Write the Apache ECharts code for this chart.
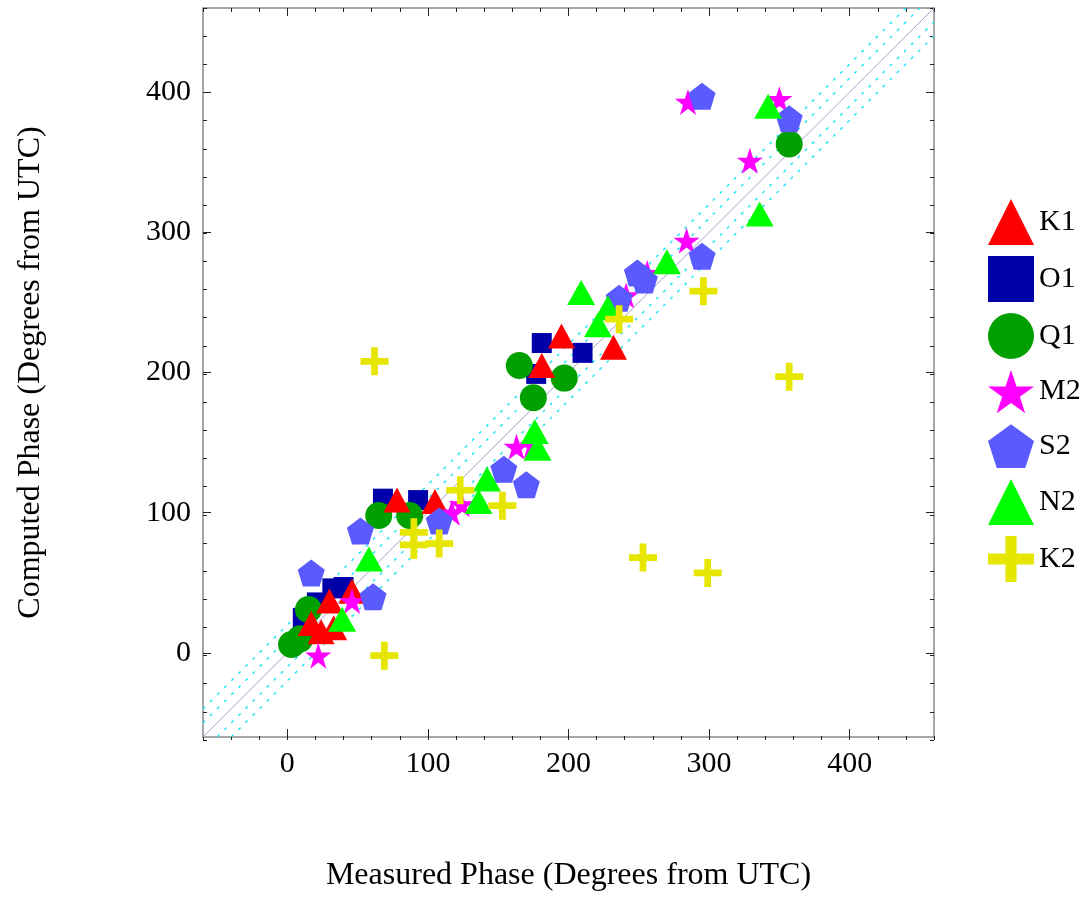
<!DOCTYPE html>
<html>
<head>
<meta charset="utf-8">
<script src="https://cdn.jsdelivr.net/npm/echarts@6/dist/echarts.min.js"></script>
<style>
html, body { margin: 0; padding: 0; background: #fff; }
#main { width: 1088px; height: 897px; }
</style>
</head>
<body>
<div id="main"></div>
<script>
// measured / computed phase pairs
var k1 = [[17, 21], [24, 15], [33, 18], [30, 37], [46, 44], [78, 109], [105, 108], [181, 205], [195, 226], [232, 218]];
var o1 = [[11, 25], [21, 36], [32, 46], [40, 47], [68, 110], [93, 109], [177, 199], [181, 221], [210, 214]];
var q1 = [[3, 6], [9, 10], [15, 31], [65, 98], [87, 98], [165, 205], [175, 182], [197, 196], [357, 363]];
var m2 = [[22, -2], [46, 37], [117, 100], [124, 106], [163, 147], [174, 148], [241, 255], [256, 271], [284, 294], [285, 393], [329, 351], [350, 395]];
var s2 = [[17, 57], [52, 87], [61, 40], [108, 94], [154, 131], [170, 120], [236, 253], [249, 271], [254, 266], [295, 283], [295, 397], [357, 381]];
var n2 = [[39, 24], [58, 67], [136, 108], [142, 124], [176, 158], [178, 146], [209, 257], [221, 234], [228, 246], [270, 279], [336, 313], [342, 390]];
var k2 = [[22, -68], [62, 208], [69, -2], [90, 86], [90, 77], [108, 78], [123, 116], [153, 105], [236, 238], [253, 68], [296, 258], [299, 57], [357, 197]];

var legendNames = ['K1', 'O1', 'Q1', 'M2', 'S2', 'N2', 'K2'];
var majorTicks = [0, 100, 200, 300, 400];
var bandOffsets = [-20, -10, 10, 20];
var axisMin = -60, axisMax = 460;

var starPath = 'path://M50,0 L61.8,35.1 L98.9,35.1 L68.9,56.7 L80.3,91.9 L50,70.2 L19.7,91.9 L31.1,56.7 L1.1,35.1 L38.2,35.1 Z';
var pentPath = 'path://M50,0 L97.6,34.5 L79.4,90.5 L20.6,90.5 L2.4,34.5 Z';
var plusPath = 'path://M38,0 L62,0 L62,38 L100,38 L100,62 L62,62 L62,100 L38,100 L38,62 L0,62 L0,38 L38,38 Z';

var font = 'Liberation Serif';
var gridBox = { left: 203, right: 154, top: 8, bottom: 157 };

function axis(kind, pos, grid, major) {
	var a = {
		type: 'value', gridIndex: grid, position: pos,
		min: axisMin, max: axisMax,
		splitLine: { show: false },
		axisLine: { show: major, onZero: false, lineStyle: { color: '#8a8a8a', width: 1.5 } },
		axisLabel: { show: false },
		axisTick: { inside: true, length: 4, lineStyle: { color: '#222', width: 1 } }
	};
	if (major) {
		a.axisTick = { inside: true, length: 8, customValues: majorTicks, lineStyle: { color: '#222', width: 1 } };
		a.axisLabel = { show: false, customValues: majorTicks };
	} else {
		a.interval = 20;
	}
	if (major && (pos === 'bottom' || pos === 'left')) {
		a.axisLabel = {
			show: true, customValues: majorTicks, margin: 12,
			fontFamily: font, fontSize: 30, color: '#000'
		};
		a.nameLocation = 'middle';
		a.nameTextStyle = { fontFamily: font, fontSize: 32, color: '#000' };
		if (kind === 'x') {
			a.name = 'Measured Phase (Degrees from UTC)';
			a.nameGap = 123;
		} else {
			a.name = 'Computed Phase (Degrees from UTC)';
			a.nameGap = 156;
		}
	}
	return a;
}

function dots(name, data, color, symbol, size) {
	return {
		name: name, type: 'scatter', data: data,
		symbol: symbol, symbolSize: size, symbolKeepAspect: false,
		itemStyle: { color: color, opacity: 1 },
		clip: true
	};
}

var guideSeries = [{
	type: 'line', data: [[axisMin, axisMin], [axisMax, axisMax]],
	symbol: 'none', silent: true, z: 1,
	lineStyle: { color: '#a39fd0', width: 1 }
}];
bandOffsets.forEach(function (o) {
	guideSeries.push({
		type: 'line', data: [[axisMin, axisMin + o], [axisMax, axisMax + o]],
		symbol: 'none', silent: true, z: 1, clip: true,
		lineStyle: { color: '#22e4f2', width: 1.5, type: [3, 7] }
	});
});

var myChart = echarts.init(document.getElementById('main'));

myChart.setOption({
	animation: false,
	backgroundColor: '#fff',
	grid: [
		Object.assign({ containLabel: false }, gridBox),
		Object.assign({ containLabel: false }, gridBox)
	],
	xAxis: [
		axis('x', 'bottom', 0, true), axis('x', 'top', 0, true),
		axis('x', 'bottom', 1, false), axis('x', 'top', 1, false)
	],
	yAxis: [
		axis('y', 'left', 0, true), axis('y', 'right', 0, true),
		axis('y', 'left', 1, false), axis('y', 'right', 1, false)
	],
	legend: {
		data: legendNames,
		orient: 'vertical',
		left: 983, top: 194,
		itemWidth: 46, itemHeight: 46, itemGap: 11,
		textStyle: { fontFamily: font, fontSize: 30, color: '#000' }
	},
	series: guideSeries.concat([
		dots('O1', o1, '#0000aa', 'rect', 20),
		dots('Q1', q1, '#00a000', 'circle', 27),
		dots('K1', k1, '#ff0000', 'triangle', [27, 25]),
		dots('M2', m2, '#ff00ff', starPath, 26),
		dots('S2', s2, '#5a5aff', pentPath, 27),
		dots('N2', n2, '#00ff00', 'triangle', [28, 25]),
		dots('K2', k2, '#e6e600', plusPath, 28)
	])
});
</script>
</body>
</html>
